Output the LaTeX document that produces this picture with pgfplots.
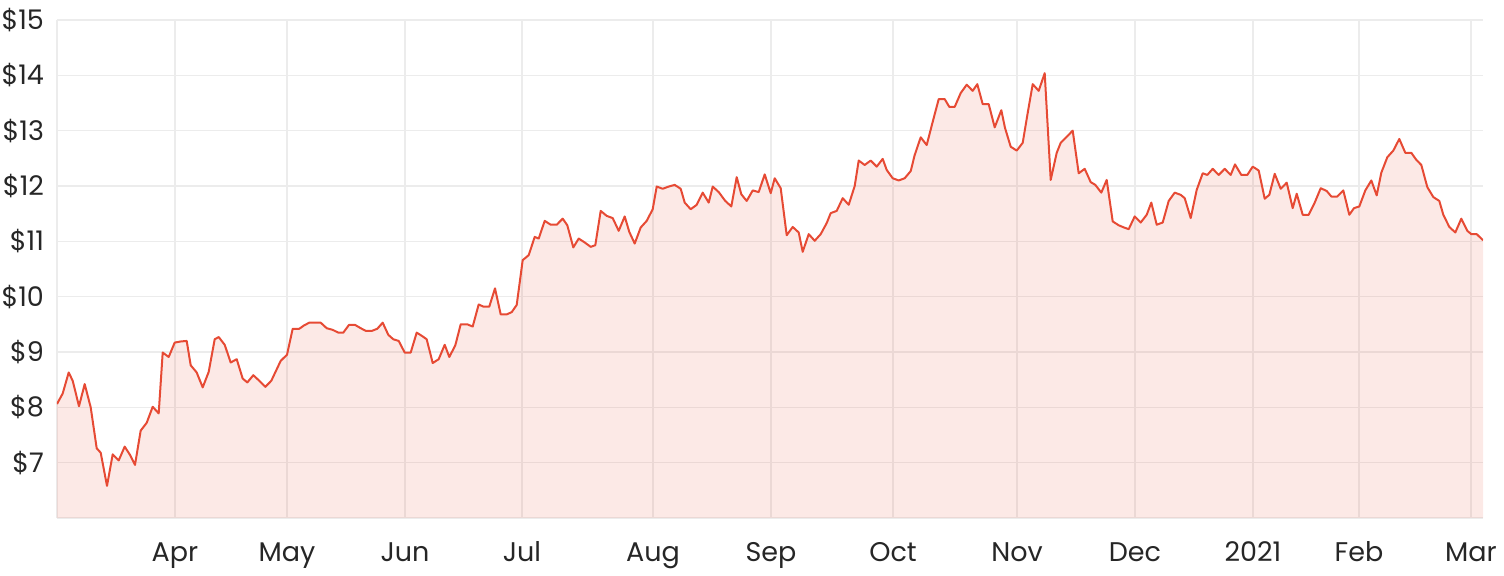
\documentclass[border=0pt]{standalone}
\usepackage{pgfplots}
\pgfplotsset{compat=1.18}
\usepackage{pgfplotstable}
\usepackage{fontspec}
\setmainfont{Poppins}
\definecolor{linered}{RGB}{230,74,52}
\definecolor{gridgray}{RGB}{236,236,236}
\definecolor{txt}{RGB}{38,38,38}

% x in chart pixels, y = share price
\pgfplotstableread{
x y
57 8.06
62.7 8.25
68.7 8.63
72.7 8.48
79 8.02
84.7 8.42
90.7 8.00
96.7 7.26
100.7 7.18
107 6.58
112.7 7.15
118.7 7.04
124.7 7.29
130 7.14
135 6.96
140.7 7.58
146.7 7.72
152.7 8.01
158.7 7.89
162.7 8.99
168.7 8.91
174.7 9.17
180.7 9.19
186.7 9.20
190.7 8.76
196.7 8.63
202.7 8.36
208.7 8.64
214.7 9.23
218.7 9.27
224.7 9.13
230.7 8.81
236.7 8.87
242.7 8.52
247.3 8.45
253.3 8.58
259.3 8.48
265.3 8.37
271.3 8.48
276 8.66
280.7 8.84
287 8.95
292.7 9.42
299.3 9.42
304 9.48
309.3 9.53
315 9.53
320.7 9.53
326.7 9.43
332.7 9.40
338.3 9.35
343.3 9.35
349 9.49
355 9.49
360.7 9.43
366 9.38
371.7 9.38
377.3 9.42
382.7 9.53
388.3 9.31
393.3 9.23
398.7 9.20
404.7 8.99
410.7 8.99
416.7 9.35
422 9.29
426.7 9.23
432.7 8.80
438.7 8.87
444.7 9.13
449.3 8.91
455.3 9.12
460.7 9.50
467.3 9.50
472.7 9.46
478.7 9.86
483.3 9.82
489.3 9.82
495 10.15
500.7 9.68
506.7 9.68
511.7 9.72
516.7 9.85
522.7 10.66
528.7 10.75
534.7 11.08
538.7 11.05
544.7 11.37
550.7 11.30
556.7 11.30
562.7 11.41
567.3 11.29
573.3 10.89
578.7 11.05
584.7 10.98
590.7 10.90
595.3 10.93
600.7 11.55
606.7 11.46
612.7 11.42
618.7 11.19
624.7 11.45
629.3 11.17
634.7 10.96
640.7 11.25
646.7 11.37
652.7 11.58
656.7 11.99
662.7 11.95
668.7 11.99
674.7 12.02
680.7 11.95
684.7 11.70
690.7 11.58
696.7 11.66
702.7 11.88
708.7 11.70
712.7 11.99
718.7 11.89
725.3 11.73
731.3 11.63
736.7 12.16
741.3 11.85
746.7 11.73
752.7 11.92
758.7 11.89
764.7 12.21
770.7 11.87
774.7 12.14
780.7 11.96
786.7 11.11
792.7 11.26
798.7 11.16
802.7 10.81
808.7 11.13
814.7 11.01
820.7 11.13
826.7 11.33
830.7 11.51
836.7 11.55
842.7 11.78
848.7 11.66
854.7 12.00
858.7 12.46
864.7 12.38
870.7 12.46
876.7 12.35
882.7 12.49
886.7 12.29
892.7 12.14
898.7 12.10
904.7 12.14
910.7 12.27
914.7 12.56
920.7 12.88
926.7 12.74
932.7 13.16
938.7 13.57
944.7 13.57
949.3 13.43
954.7 13.43
960.7 13.68
966.7 13.83
972.7 13.72
977.3 13.84
982.7 13.48
988.7 13.48
994.7 13.06
1001.3 13.37
1005 13.05
1010.7 12.71
1016.7 12.64
1022.7 12.78
1027.5 13.30
1032.7 13.84
1038.7 13.72
1044.7 14.04
1050.7 12.11
1056.7 12.60
1060.7 12.78
1066.7 12.89
1072.7 13.00
1078.7 12.23
1084.7 12.31
1090.7 12.07
1095.3 12.02
1101.3 11.88
1106.7 12.11
1112.7 11.36
1118.7 11.29
1124 11.25
1128.7 11.22
1134.7 11.45
1140.7 11.34
1146.7 11.48
1151.3 11.70
1156.7 11.30
1162.7 11.34
1168.7 11.73
1174.7 11.88
1180.7 11.84
1184.7 11.78
1190.7 11.42
1196.7 11.93
1202.7 12.23
1207.3 12.20
1212.7 12.31
1218.7 12.20
1224.7 12.31
1230.7 12.20
1235 12.39
1241.3 12.20
1247.3 12.20
1252.7 12.35
1258.7 12.28
1264.7 11.77
1269.3 11.84
1274.7 12.22
1280.7 11.95
1286.7 12.06
1292.7 11.60
1296.7 11.86
1302.7 11.48
1308.7 11.48
1314.7 11.70
1320.7 11.96
1326.7 11.91
1331.3 11.81
1337.3 11.81
1343.3 11.92
1349.3 11.48
1354 11.60
1359.3 11.63
1365.3 11.92
1371.3 12.10
1376.7 11.83
1381.3 12.24
1387.3 12.52
1393.3 12.64
1399.3 12.85
1405.3 12.60
1411.3 12.60
1416 12.48
1421.3 12.38
1427.3 11.98
1433.3 11.80
1439.3 11.73
1443.3 11.48
1449.3 11.26
1455.3 11.16
1461.3 11.41
1467.3 11.19
1471.3 11.13
1476.7 11.13
1483 11.02
}\price

\begin{document}
\begin{tikzpicture}
\begin{axis}[
  scale only axis,
  width=713pt, height=249pt,
  xmin=57, xmax=1483, ymin=6, ymax=15,
  axis x line*=bottom, axis y line*=left,
  axis line style={draw=gridgray, line width=0.6pt},
  xtick={175,287,405,522,653,771,893,1017,1135,1253,1359,1471},
  xticklabels={Apr,May,Jun,Jul,Aug,Sep,Oct,Nov,Dec,2021,Feb,Mar},
  ytick={7,8,...,15},
  yticklabel={\$\pgfmathprintnumber{\tick}},
  /pgf/number format/assume math mode=true,
  major tick length=0pt,
  grid=major,
  grid style={draw=gridgray, line width=0.6pt},
  ticklabel style={font=\fontsize{13.5}{16}\selectfont, text=txt},
  xticklabel style={anchor=base, yshift=-22pt},
  yticklabel style={xshift=-3pt},
]
\addplot[draw=none, fill=linered, fill opacity=0.12] table[x=x,y=y]{\price} \closedcycle;
\addplot[color=linered, line width=1pt, line join=round] table[x=x,y=y]{\price};
\end{axis}
\pgfresetboundingbox
\path (current axis.south west) ++(-28.5pt,-29pt) rectangle ++(752pt,288pt);
\end{tikzpicture}
\end{document}
